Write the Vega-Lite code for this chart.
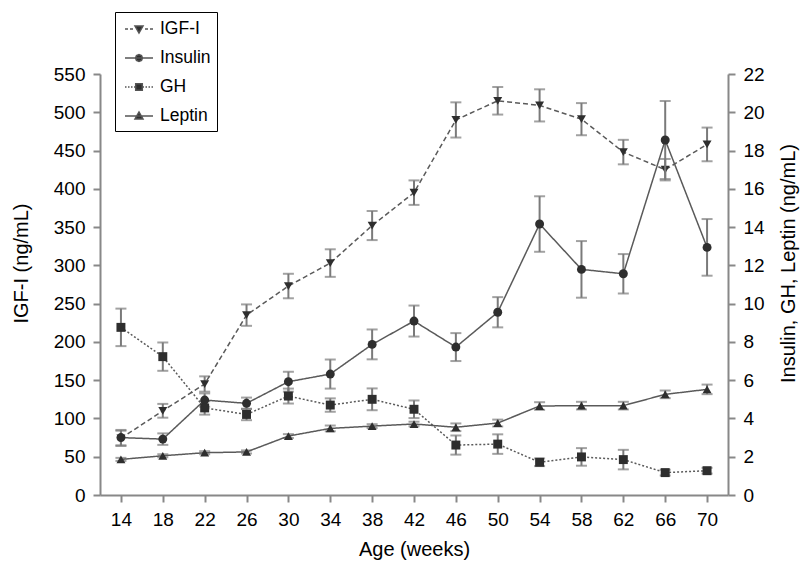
{
  "$schema": "https://vega.github.io/schema/vega-lite/v6.json",
  "width": 628,
  "height": 421,
  "autosize": "none",
  "padding": {"left": 100, "top": 74, "right": 73, "bottom": 69},
  "background": "white",
  "config": {
    "font": "Liberation Sans",
    "view": {"stroke": null},
    "axis": {
      "domainColor": "#888888",
      "domainWidth": 2,
      "tickColor": "#888888",
      "tickWidth": 2,
      "tickSize": 7,
      "labelColor": "black",
      "titleColor": "black",
      "titleFontWeight": "normal",
      "labelFontSize": 19,
      "titleFontSize": 20,
      "grid": false
    }
  },
  "data": {
    "values": [
      {"week": 14, "series": "IGF-I", "value": 74, "err": 10},
      {"week": 18, "series": "IGF-I", "value": 110, "err": 9},
      {"week": 22, "series": "IGF-I", "value": 145, "err": 10},
      {"week": 26, "series": "IGF-I", "value": 235, "err": 14},
      {"week": 30, "series": "IGF-I", "value": 273, "err": 16},
      {"week": 34, "series": "IGF-I", "value": 303, "err": 18},
      {"week": 38, "series": "IGF-I", "value": 352, "err": 19},
      {"week": 42, "series": "IGF-I", "value": 395, "err": 16},
      {"week": 46, "series": "IGF-I", "value": 490, "err": 23},
      {"week": 50, "series": "IGF-I", "value": 515, "err": 18},
      {"week": 54, "series": "IGF-I", "value": 509, "err": 21},
      {"week": 58, "series": "IGF-I", "value": 491, "err": 21},
      {"week": 62, "series": "IGF-I", "value": 448, "err": 16},
      {"week": 66, "series": "IGF-I", "value": 425, "err": 14},
      {"week": 70, "series": "IGF-I", "value": 458, "err": 22},
      {"week": 14, "series": "Insulin", "value": 3.0, "err": 0.4},
      {"week": 18, "series": "Insulin", "value": 2.92, "err": 0.3},
      {"week": 22, "series": "Insulin", "value": 4.96, "err": 0.35},
      {"week": 26, "series": "Insulin", "value": 4.79, "err": 0.3},
      {"week": 30, "series": "Insulin", "value": 5.92, "err": 0.52},
      {"week": 34, "series": "Insulin", "value": 6.32, "err": 0.76},
      {"week": 38, "series": "Insulin", "value": 7.87, "err": 0.78},
      {"week": 42, "series": "Insulin", "value": 9.09, "err": 0.81},
      {"week": 46, "series": "Insulin", "value": 7.73, "err": 0.73},
      {"week": 50, "series": "Insulin", "value": 9.55, "err": 0.79},
      {"week": 54, "series": "Insulin", "value": 14.16, "err": 1.45},
      {"week": 58, "series": "Insulin", "value": 11.79, "err": 1.48},
      {"week": 62, "series": "Insulin", "value": 11.56, "err": 1.03},
      {"week": 66, "series": "Insulin", "value": 18.55, "err": 2.04},
      {"week": 70, "series": "Insulin", "value": 12.94, "err": 1.48},
      {"week": 14, "series": "GH", "value": 8.76, "err": 0.98},
      {"week": 18, "series": "GH", "value": 7.23, "err": 0.74},
      {"week": 22, "series": "GH", "value": 4.55, "err": 0.35},
      {"week": 26, "series": "GH", "value": 4.21, "err": 0.3},
      {"week": 30, "series": "GH", "value": 5.17, "err": 0.39},
      {"week": 34, "series": "GH", "value": 4.7, "err": 0.35},
      {"week": 38, "series": "GH", "value": 5.0, "err": 0.57},
      {"week": 42, "series": "GH", "value": 4.48, "err": 0.46},
      {"week": 46, "series": "GH", "value": 2.61, "err": 0.5},
      {"week": 50, "series": "GH", "value": 2.66, "err": 0.51},
      {"week": 54, "series": "GH", "value": 1.71, "err": 0.2},
      {"week": 58, "series": "GH", "value": 1.99, "err": 0.46},
      {"week": 62, "series": "GH", "value": 1.85, "err": 0.51},
      {"week": 66, "series": "GH", "value": 1.17, "err": 0.15},
      {"week": 70, "series": "GH", "value": 1.27, "err": 0.15},
      {"week": 14, "series": "Leptin", "value": 1.86, "err": 0.08},
      {"week": 18, "series": "Leptin", "value": 2.05, "err": 0.08},
      {"week": 22, "series": "Leptin", "value": 2.21, "err": 0.08},
      {"week": 26, "series": "Leptin", "value": 2.25, "err": 0.08},
      {"week": 30, "series": "Leptin", "value": 3.08, "err": 0.1},
      {"week": 34, "series": "Leptin", "value": 3.48, "err": 0.15},
      {"week": 38, "series": "Leptin", "value": 3.6, "err": 0.1},
      {"week": 42, "series": "Leptin", "value": 3.71, "err": 0.12},
      {"week": 46, "series": "Leptin", "value": 3.54, "err": 0.2},
      {"week": 50, "series": "Leptin", "value": 3.76, "err": 0.18},
      {"week": 54, "series": "Leptin", "value": 4.65, "err": 0.2},
      {"week": 58, "series": "Leptin", "value": 4.67, "err": 0.2},
      {"week": 62, "series": "Leptin", "value": 4.67, "err": 0.2},
      {"week": 66, "series": "Leptin", "value": 5.26, "err": 0.2},
      {"week": 70, "series": "Leptin", "value": 5.52, "err": 0.25}
    ]
  },
  "encoding": {
    "x": {
      "field": "week",
      "type": "quantitative",
      "scale": {"domain": [12, 72], "nice": false, "zero": false},
      "axis": {
        "values": [14, 18, 22, 26, 30, 34, 38, 42, 46, 50, 54, 58, 62, 66, 70],
        "title": "Age (weeks)",
        "labelPadding": 8,
        "titlePadding": 10
      }
    }
  },
  "layer": [
    {
      "transform": [{"filter": "datum.series === 'IGF-I'"}],
      "encoding": {
        "y": {
          "field": "value",
          "type": "quantitative",
          "title": "IGF-I (ng/mL)",
          "scale": {"domain": [0, 550], "nice": false},
          "axis": {
            "orient": "left",
            "values": [0, 50, 100, 150, 200, 250, 300, 350, 400, 450, 500, 550],
            "labelPadding": 8,
            "titlePadding": 22,
            "titleY": 189
          }
        }
      },
      "layer": [
        {
          "mark": {"type": "errorbar", "color": "#7a7a7a", "thickness": 2, "ticks": {"size": 11, "thickness": 2}},
          "encoding": {"yError": {"field": "err"}}
        },
        {
          "mark": {"type": "line", "color": "#5a5a5a", "strokeWidth": 1.5},
          "encoding": {
            "strokeDash": {
              "field": "series",
              "type": "nominal",
              "scale": {"domain": ["Insulin", "Leptin", "IGF-I", "GH"], "range": [[1, 0], [1, 0], [5, 3], [2, 2]]},
              "legend": null
            }
          }
        },
        {
          "mark": {"type": "point", "filled": true, "color": "#2e2e2e", "opacity": 1, "size": 80},
          "encoding": {
            "shape": {
              "field": "series",
              "type": "nominal",
              "scale": {"domain": ["Insulin", "IGF-I", "GH", "Leptin"], "range": ["circle", "triangle-down", "square", "triangle-up"]},
              "legend": null
            }
          }
        }
      ]
    },
    {
      "transform": [{"filter": "datum.series !== 'IGF-I'"}],
      "encoding": {
        "y": {
          "field": "value",
          "type": "quantitative",
          "title": "Insulin, GH, Leptin (ng/mL)",
          "scale": {"domain": [0, 22], "nice": false},
          "axis": {
            "orient": "right",
            "values": [0, 2, 4, 6, 8, 10, 12, 14, 16, 18, 20, 22],
            "labelPadding": 8,
            "titlePadding": 14,
            "titleAngle": 270,
            "titleBaseline": "top",
            "titleY": 189
          }
        }
      },
      "layer": [
        {
          "mark": {"type": "errorbar", "color": "#7a7a7a", "thickness": 2, "ticks": {"size": 11, "thickness": 2}},
          "encoding": {"yError": {"field": "err"}}
        },
        {
          "mark": {"type": "line", "color": "#5a5a5a", "strokeWidth": 1.5},
          "encoding": {
            "detail": {"field": "series"},
            "strokeDash": {
              "field": "series",
              "type": "nominal",
              "scale": {"domain": ["Insulin", "Leptin", "IGF-I", "GH"], "range": [[1, 0], [1, 0], [5, 3], [2, 2]]},
              "legend": null
            }
          }
        },
        {
          "mark": {"type": "point", "filled": true, "color": "#2e2e2e", "opacity": 1, "size": 80},
          "encoding": {
            "shape": {
              "field": "series",
              "type": "nominal",
              "scale": {"domain": ["Insulin", "IGF-I", "GH", "Leptin"], "range": ["circle", "triangle-down", "square", "triangle-up"]},
              "legend": null
            }
          }
        }
      ]
    },
    {
      "transform": [{"filter": "false"}],
      "mark": {"type": "point", "filled": true, "color": "#2e2e2e", "stroke": "#555555", "strokeWidth": 1.3, "opacity": 1},
      "encoding": {
        "shape": {
          "field": "series",
          "type": "nominal",
          "scale": {
            "domain": ["IGF-I", "Insulin", "GH", "Leptin"],
            "range": [
              "M-1.4,0H-1.1M-0.9,0H-0.6M0.6,0H0.9M1.1,0H1.4M-0.4,-0.3L0.4,-0.3L0,0.4Z",
              "M-1.4,0H1.4M0.35,0L0.25,0.25L0,0.35L-0.25,0.25L-0.35,0L-0.25,-0.25L0,-0.35L0.25,-0.25Z",
              "M-1.4,0H-1.25M-1.1,0H-0.95M-0.8,0H-0.65M-0.5,0H-0.38M0.38,0H0.5M0.65,0H0.8M0.95,0H1.1M1.25,0H1.4M-0.33,-0.33H0.33V0.33H-0.33Z",
              "M-1.4,0H1.4M-0.4,0.3L0.4,0.3L0,-0.4Z"
            ]
          },
          "legend": {
            "title": null,
            "orient": "none",
            "legendX": 15,
            "legendY": -62,
            "strokeColor": "black",
            "fillColor": "white",
            "padding": 6,
            "symbolSize": 400,
            "symbolOffset": 7,
            "labelOffset": 10,
            "rowPadding": 9,
            "labelFontSize": 17.5,
            "labelColor": "black",
            "symbolOpacity": 1,
            "labelExpr": "datum.label + '\u00a0'"
          }
        }
      }
    }
  ],
  "resolve": {"scale": {"y": "independent", "shape": "independent"}}
}
